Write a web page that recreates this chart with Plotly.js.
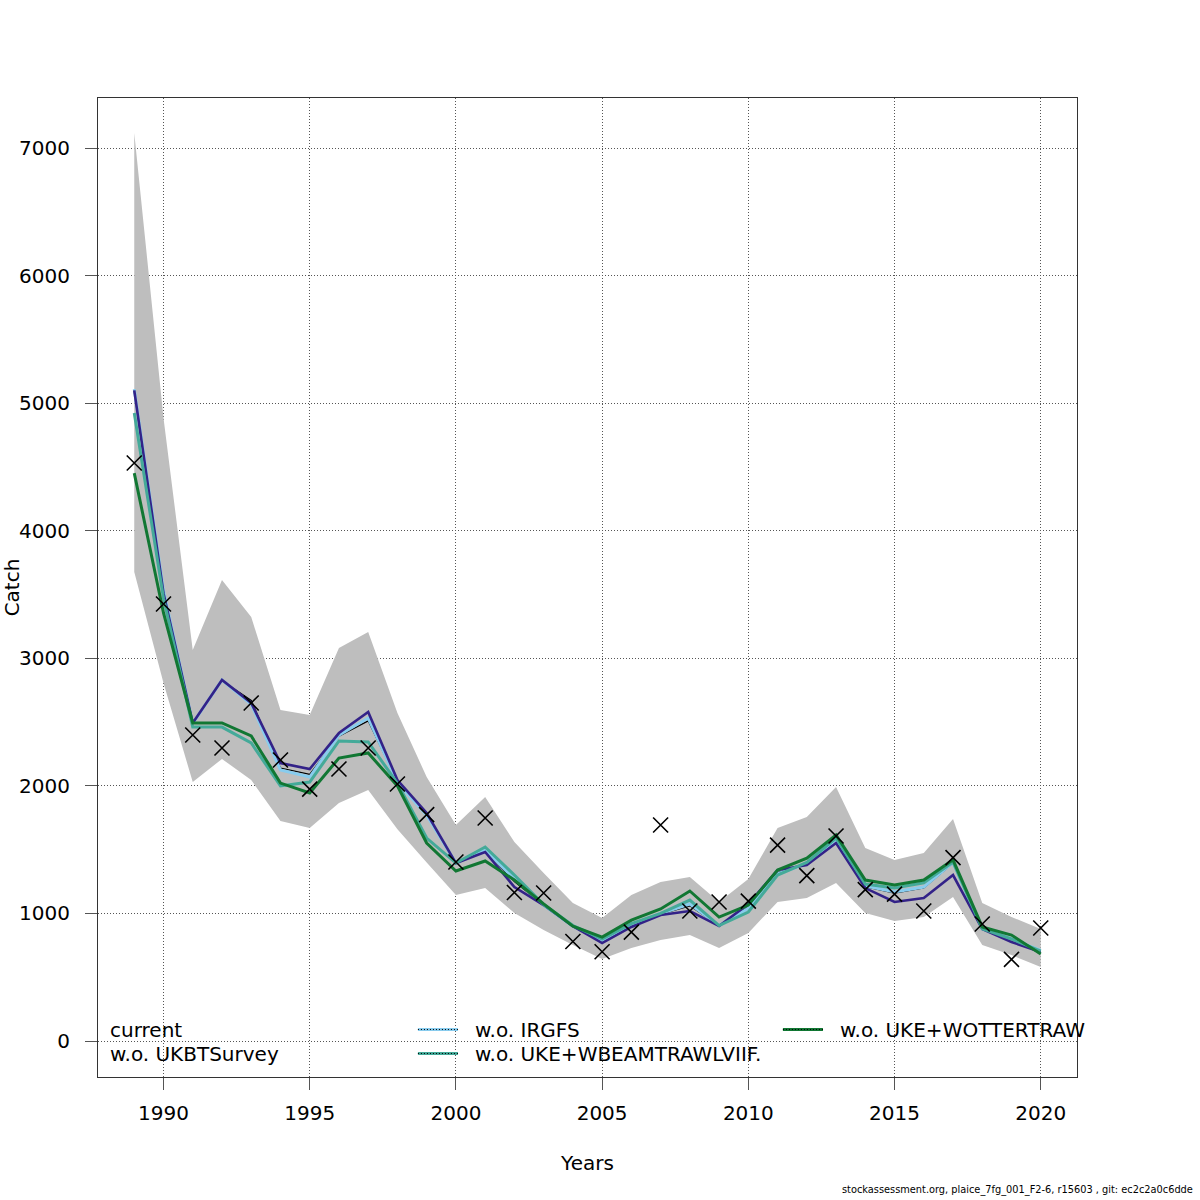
<!DOCTYPE html>
<html>
<head>
<meta charset="utf-8">
<script src="https://cdn.plot.ly/plotly-3.0.1.min.js"></script>
<style>body{margin:0;background:#fff;} #chart{width:1200px;height:1200px;}</style>
</head>
<body>
<div id="chart"></div>
<script>
const years = [1989,1990,1991,1992,1993,1994,1995,1996,1997,1998,1999,2000,2001,2002,2003,2004,2005,2006,2007,2008,2009,2010,2011,2012,2013,2014,2015,2016,2017,2018,2019,2020];

const observed = [4531,3426,2399,2297,2650,2203,1975,2132,2297,2015,1775,1403,1748,1164,1160,780,700,854,1693,1019,1090,1097,1536,1297,1607,1187,1152,1019,1438,917,640,886];

const ciUpper = [7118,4884,3065,3614,3324,2595,2555,3081,3206,2571,2070,1693,1913,1560,1317,1082,964,1144,1246,1286,1090,1270,1670,1756,1991,1513,1419,1474,1740,1082,972,878];
const ciLower = [3676,2806,2030,2211,2046,1725,1670,1866,1968,1660,1400,1144,1199,1003,870,753,643,729,792,831,729,847,1090,1121,1239,1003,941,972,1129,753,674,580];

const current = [5090,3520,2490,2825,2670,2140,2090,2390,2510,2035,1775,1395,1495,1250,1065,900,785,905,995,1060,905,1050,1320,1385,1575,1210,1160,1200,1395,880,795,705];
const woIRGFS = [5110,3530,2490,2830,2640,2124,2069,2398,2532,2030,1770,1395,1500,1270,1066,900,790,910,1000,1074,905,1040,1310,1390,1580,1215,1168,1207,1400,880,800,710];
const woUKBTSurvey = [5100,3510,2493,2830,2650,2179,2132,2414,2579,2046,1787,1395,1482,1207,1066,901,768,894,988,1019,901,1074,1340,1380,1552,1199,1090,1121,1301,878,776,698];
const woBeam = [4923,3470,2461,2461,2336,1999,2030,2352,2344,2020,1591,1395,1521,1301,1070,905,800,920,1000,1105,905,1011,1301,1400,1591,1230,1200,1240,1403,880,800,705];
const woOtter = [4452,3355,2493,2493,2391,2022,1944,2218,2258,2000,1552,1333,1411,1262,1075,901,815,948,1035,1176,972,1066,1340,1434,1615,1262,1223,1262,1420,894,831,682];

const seriesNames = ["current","w.o. IRGFS","w.o. UKBTSurvey","w.o. UKE+WBEAMTRAWLVIIF.","w.o. UKE+WOTTERTRAW"];
const seriesColors = ["#000000","#88CCEE","#332288","#44AA99","#117733"];
const xTicks = [1990,1995,2000,2005,2010,2015,2020];
const yTicks = [0,1000,2000,3000,4000,5000,6000,7000];

const FONT = "DejaVu Sans, sans-serif";
const FS = 20;

const traces = [
  {x: years, y: ciUpper, mode:'lines', line:{width:0, color:'rgba(0,0,0,0)'}, showlegend:false, hoverinfo:'skip'},
  {x: years, y: ciLower, mode:'lines', fill:'tonexty', fillcolor:'#BEBEBE', line:{width:0, color:'rgba(0,0,0,0)'}, showlegend:false, hoverinfo:'skip'},
  {x: years, y: current, name: seriesNames[0], mode:'lines', line:{color:seriesColors[0], width:1.3}},
  {x: years, y: woIRGFS, name: seriesNames[1], mode:'lines', line:{color:seriesColors[1], width:3}},
  {x: years, y: woUKBTSurvey, name: seriesNames[2], mode:'lines', line:{color:seriesColors[2], width:2.6}},
  {x: years, y: woBeam, name: seriesNames[3], mode:'lines', line:{color:seriesColors[3], width:3}},
  {x: years, y: woOtter, name: seriesNames[4], mode:'lines', line:{color:seriesColors[4], width:3}},
  {x: years, y: observed, name:'observed', mode:'markers', marker:{symbol:'x-thin-open', size:15, color:'#000', line:{color:'#000', width:1.6}}}
];

const legendItems = [
  {t: seriesNames[0], x: 0.0102, y: 0.0485, line:null},
  {t: seriesNames[2], x: 0.0102, y: 0.0240, line:null},
  {t: seriesNames[1], x: 0.3830, y: 0.0485, line:seriesColors[1]},
  {t: seriesNames[3], x: 0.3830, y: 0.0240, line:seriesColors[3]},
  {t: seriesNames[4], x: 0.7558, y: 0.0485, line:seriesColors[4]}
];
const annotations = [];
const shapes = [];
legendItems.forEach(it => {
  annotations.push({xref:'paper', yref:'paper', x: it.x, y: it.y, text: it.t, showarrow:false,
    xanchor:'left', yanchor:'middle', font:{family:FONT, size:FS, color:'#000'}});
  if (it.line) {
    const x0 = it.x - 0.0562, x1 = it.x - 0.0153;
    shapes.push({type:'line', xref:'paper', yref:'paper', x0:x0, x1:x1, y0:it.y, y1:it.y, line:{color:it.line, width:3}});
    shapes.push({type:'line', xref:'paper', yref:'paper', x0:x0, x1:x1, y0:it.y, y1:it.y, line:{color:'#000', width:1, dash:'1px,2px'}});
  }
});
annotations.push({xref:'paper', yref:'paper', x: 1.1205, y: -0.1235, text:'stockassessment.org, plaice_7fg_001_F2-6, r15603 , git: ec2c2a0c6dde',
  showarrow:false, xanchor:'right', yanchor:'bottom', font:{family:FONT, size:9.8, color:'#000'}});

const layout = {
  width:1200, height:1200,
  margin:{l:98, r:123, t:98, b:123},
  paper_bgcolor:'#fff', plot_bgcolor:'#fff',
  showlegend:false,
  font:{family:FONT, size:FS, color:'#000'},
  xaxis:{
    range:[1987.76, 2021.24], tickvals:xTicks, ticktext:xTicks.map(String),
    showgrid:true, gridcolor:'#555', griddash:'1px,2px', gridwidth:1,
    zeroline:false, showline:true, mirror:true, linecolor:'#333', linewidth:1,
    ticks:'outside', ticklen:12, tickcolor:'#555', tickwidth:1,
    ticklabelstandoff:6,
    tickfont:{family:FONT, size:FS, color:'#000'},
    title:{text:'Years', font:{family:FONT, size:FS, color:'#000'}, standoff:31}
  },
  yaxis:{
    range:[-282, 7392], tickvals:yTicks, ticktext:yTicks.map(String),
    showgrid:true, gridcolor:'#555', griddash:'1px,2px', gridwidth:1,
    zeroline:false, showline:true, mirror:true, linecolor:'#333', linewidth:1,
    ticks:'outside', ticklen:12, tickcolor:'#555', tickwidth:1,
    ticklabelstandoff:11,
    tickfont:{family:FONT, size:FS, color:'#000'},
    title:{text:'Catch', font:{family:FONT, size:FS, color:'#000'}, standoff:12}
  },
  annotations: annotations,
  shapes: shapes
};

Plotly.newPlot('chart', traces, layout, {displayModeBar:false, staticPlot:true});
</script>
</body>
</html>
